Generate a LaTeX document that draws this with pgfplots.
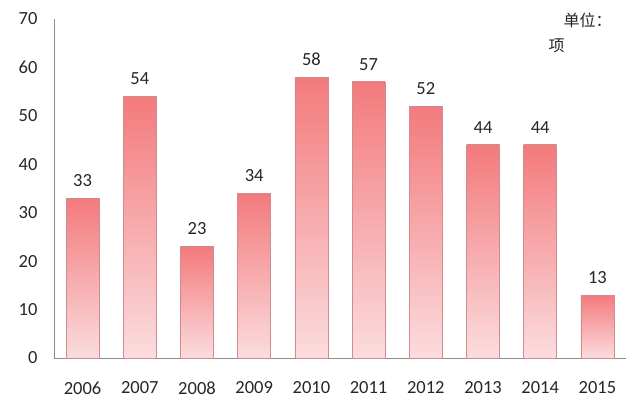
\documentclass[border=0pt]{standalone}
\usepackage{pgfplots}
\pgfplotsset{compat=1.18}
\usepackage{fontspec}
\setmainfont{Carlito}
\newfontfamily\cjk{Noto Sans CJK SC}
\definecolor{bartop}{RGB}{243,122,124}
\definecolor{barbot}{RGB}{251,220,222}
\definecolor{baredge}{RGB}{205,140,145}
\definecolor{axgray}{RGB}{140,140,140}
\begin{document}
\begin{tikzpicture}
\begin{axis}[
  at={(0pt,0pt)}, anchor=south west,
  scale only axis, width=572pt, height=339pt,
  xmin=-0.5, xmax=9.5, ymin=0, ymax=70,
  ytick={0,10,...,70},
  xtick={0,...,9},
  xticklabels={2006,2007,2008,2009,2010,2011,2012,2013,2014,2015},
  axis x line*=bottom, axis y line*=left,
  axis line style={axgray, line width=0.8pt, -},
  major tick length=0pt,
  tick style={draw=none},
  /pgf/number format/assume math mode=true,
  ticklabel style={font=\fontsize{18.5}{20}\selectfont, text=black!85},
  yticklabel style={anchor=east, xshift=-13pt},
  xticklabel style={anchor=north, yshift=-20pt},
  ybar, bar width=33pt, bar shift=0pt,
  nodes near coords,
  every node near coord/.append style={font=\fontsize{18.5}{20}\selectfont, text=black!85, anchor=south, yshift=8pt},
  clip=false,
  barstyle/.style={draw=baredge, line width=0.6pt, top color=bartop, bottom color=barbot},
]
\addplot[barstyle] coordinates {(0,33)};
\addplot[barstyle] coordinates {(1,54)};
\addplot[barstyle] coordinates {(2,23)};
\addplot[barstyle] coordinates {(3,34)};
\addplot[barstyle] coordinates {(4,58)};
\addplot[barstyle] coordinates {(5,57)};
\addplot[barstyle] coordinates {(6,52)};
\addplot[barstyle] coordinates {(7,44)};
\addplot[barstyle] coordinates {(8,44)};
\addplot[barstyle] coordinates {(9,13)};
\end{axis}
\node[anchor=west, font=\cjk\fontsize{16}{18}\selectfont, text=black!85] at (506pt,338pt) {单位：};
\node[anchor=west, font=\cjk\fontsize{16}{18}\selectfont, text=black!85] at (491pt,312pt) {项};
\path[use as bounding box] (-54pt,-56pt) rectangle (586pt,358pt);
\end{tikzpicture}
\end{document}
